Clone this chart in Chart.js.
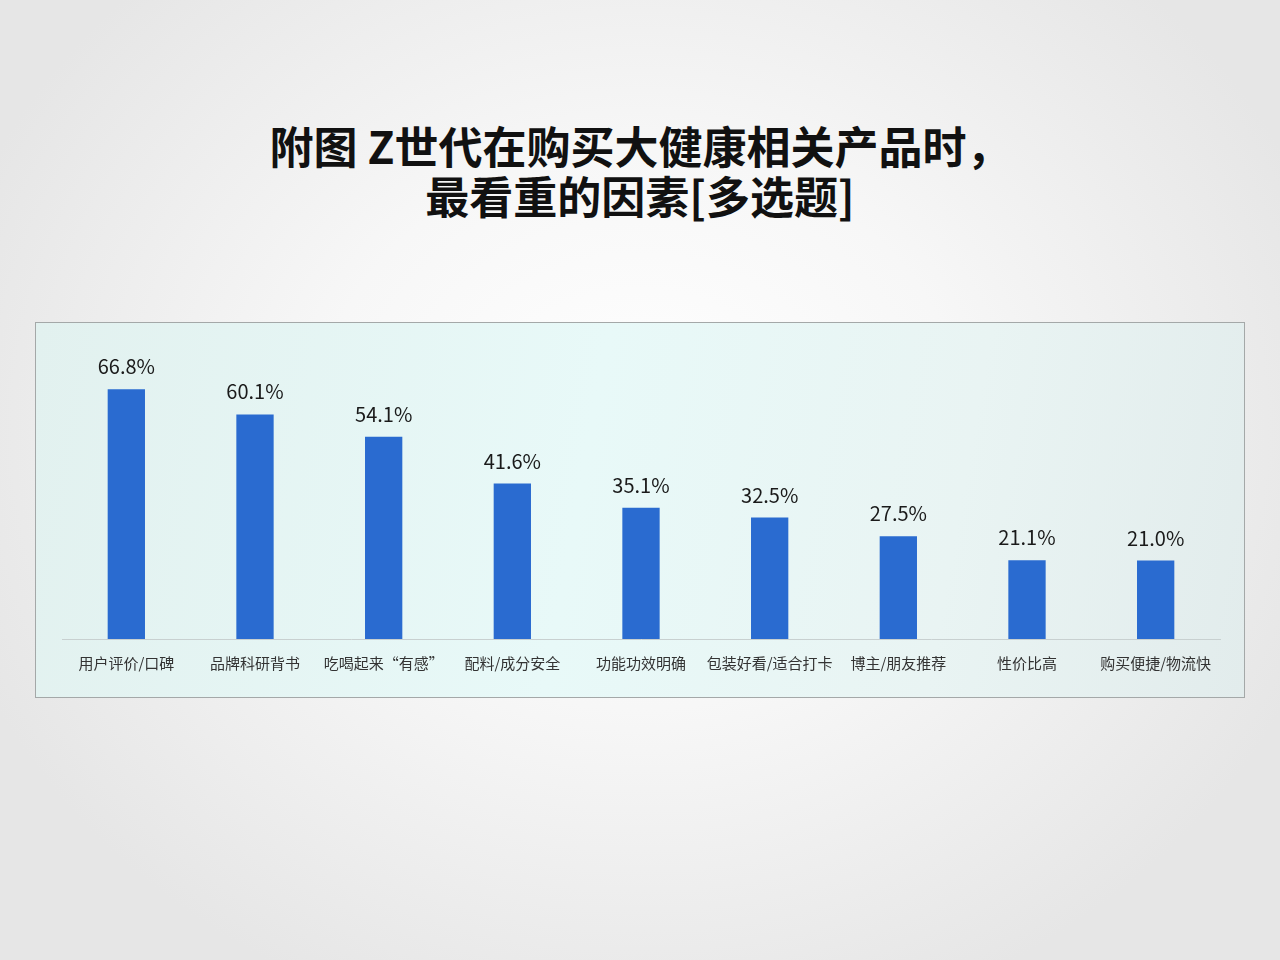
<!DOCTYPE html>
<html lang="zh">
<head>
<meta charset="utf-8">
<script src="https://cdn.jsdelivr.net/npm/chart.js@4.4.1/dist/chart.umd.min.js"></script>
<style>
  html, body { margin: 0; padding: 0; }
  body {
    width: 1280px; height: 960px; position: relative; overflow: hidden;
    background: radial-gradient(ellipse 720px 620px at 640px 430px, #ffffff 0%, #f7f7f7 45%, #e6e6e6 100%);
    font-family: "Noto Sans CJK SC", "Noto Sans", sans-serif;
  }
  #title {
    position: absolute; left: 0; top: 120px; width: 1280px;
    text-align: center; font-size: 44px; font-weight: 700; line-height: 50px; color: #111;
  }
  #box {
    position: absolute; left: 35px; top: 322px; width: 1208px; height: 374px;
    border: 1px solid #a4a8a8;
    background: linear-gradient(100deg, #e2f1ef 0%, #e8f9f8 45%, #e9f4f3 75%, #e2ecec 100%);
  }
  #box canvas { position: absolute; left: 0; top: 0; }
</style>
</head>
<body>
<div id="title">附图 Z世代在购买大健康相关产品时，<br>最看重的因素[多选题]</div>
<div id="box"><canvas id="factorChart" width="1208" height="374"></canvas></div>
<script>
// categories and values (%)
const factors = ['用户评价/口碑', '品牌科研背书', '吃喝起来“有感”', '配料/成分安全', '功能功效明确',
  '包装好看/适合打卡', '博主/朋友推荐', '性价比高', '购买便捷/物流快'];
const shares = [66.8, 60.1, 54.1, 41.6, 35.1, 32.5, 27.5, 21.1, 21.0];

// value labels above each bar
const valueLabels = {
  id: 'valueLabels',
  afterDatasetsDraw(chart) {
    const ctx = chart.ctx;
    const meta = chart.getDatasetMeta(0);
    ctx.save();
    ctx.font = '20px "Noto Sans CJK SC", "Noto Sans", sans-serif';
    ctx.fillStyle = '#1a1a1a';
    ctx.textAlign = 'center';
    ctx.textBaseline = 'alphabetic';
    meta.data.forEach(function(bar, i) {
      ctx.fillText(shares[i].toFixed(1) + '%', bar.x, bar.y - 15);
    });
    ctx.restore();
  }
};

const factorCtx = document.getElementById('factorChart').getContext('2d');
const factorChart = new Chart(factorCtx, {
  type: 'bar',
  data: {
    labels: factors,
    datasets: [{
      data: shares,
      backgroundColor: '#2a6bd0',
      barPercentage: 0.29,
      categoryPercentage: 1
    }]
  },
  options: {
    responsive: false,
    animation: false,
    layout: { padding: { left: 26, right: 24, top: 17, bottom: 10 } },
    plugins: {
      legend: { display: false },
      tooltip: { enabled: false }
    },
    scales: {
      x: {
        grid: { display: false, drawTicks: false },
        border: { display: true, color: '#c8d0d0', width: 1 },
        ticks: {
          padding: 15,
          color: '#333333',
          font: { size: 15, family: '"Noto Sans CJK SC", "Noto Sans", sans-serif' },
          maxRotation: 0,
          autoSkip: false
        }
      },
      y: {
        display: false,
        min: 0,
        max: 80
      }
    }
  },
  plugins: [valueLabels]
});
</script>
</body>
</html>
